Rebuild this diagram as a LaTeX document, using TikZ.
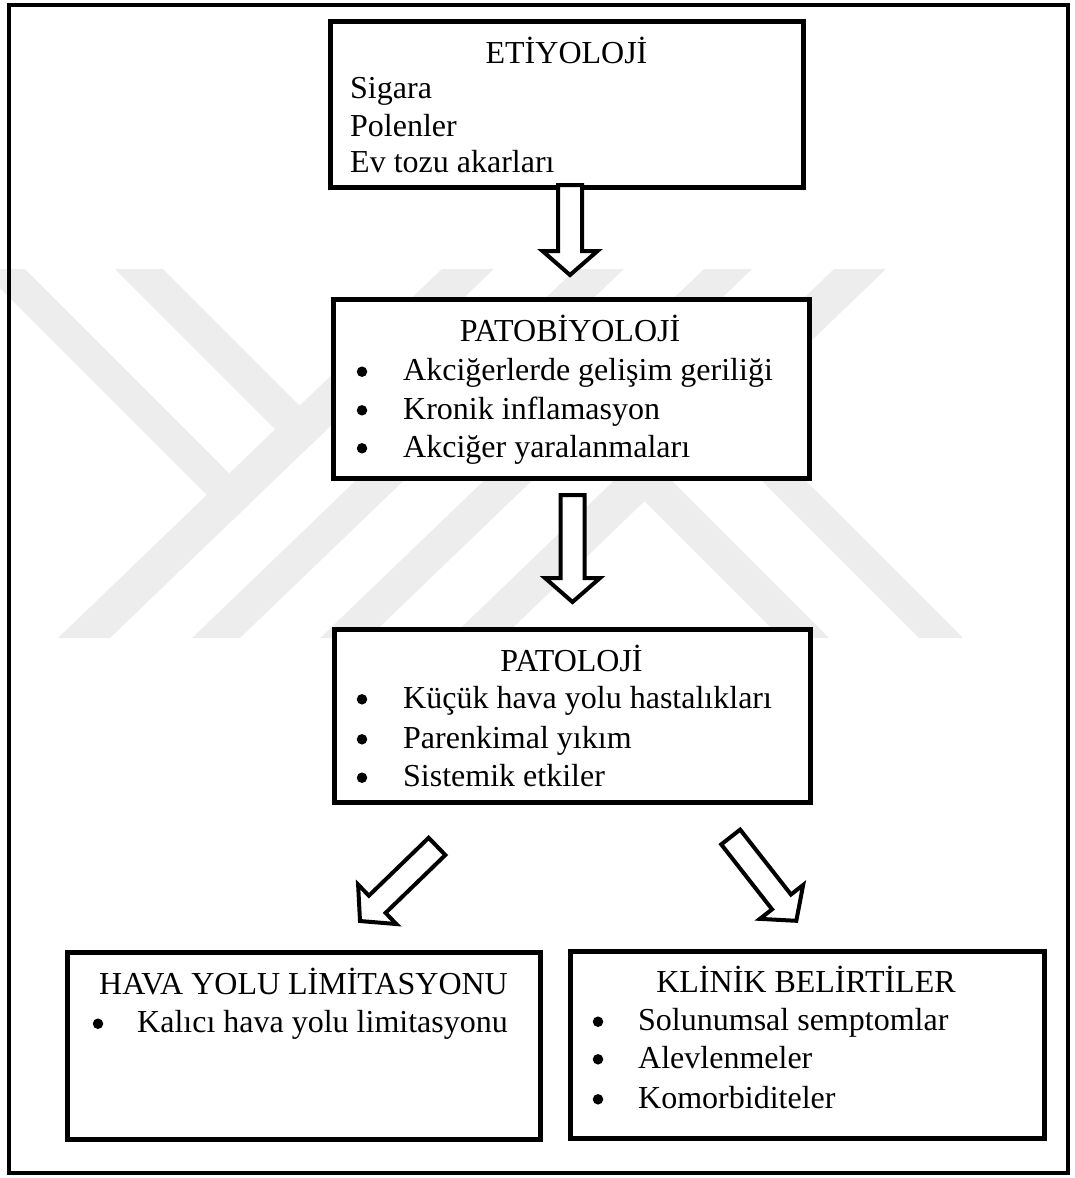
\documentclass[tikz,border=0pt]{standalone}
\usepackage{fontspec}
\setmainfont{Liberation Serif}
\usetikzlibrary{calc}

% block arrow from a tail coordinate to a tip coordinate
\newcommand{\blockarrow}[2]{%
  \coordinate (hb) at ($(#2)!24pt!(#1)$);
  \draw[barrow] ($(#1)!12pt!90:(#2)$) -- ($(hb)!12pt!-90:(#1)$)
    -- ($(hb)!27.5pt!-90:(#1)$) -- (#2) -- ($(hb)!27.5pt!90:(#1)$)
    -- ($(hb)!12pt!90:(#1)$) -- ($(#1)!12pt!-90:(#2)$) -- cycle;}

% one half of the background emblem (the other half is this turned by 180 degrees)
\newcommand{\emblemhalf}{%
  \fill[wm] (-19,269) -- (25,269) -- (254.8,498.8) -- (232.3,520.3) -- cycle;
  \fill[wm] (115,269) -- (163,269) -- (325.1,431.1) -- (300.7,454.7) -- cycle;
  \fill[wm] (58,638) -- (110,638) -- (493.8,269) -- (441.8,269) -- cycle;
  \fill[wm] (192,638) -- (240,638) -- (623.8,269) -- (575.8,269) -- cycle;}

\begin{document}
\begin{tikzpicture}[x=1pt,y=-1pt,
  wm/.style={fill=black!7},
  box/.style={draw, fill=white, line width=5pt, inner sep=0pt},
  barrow/.style={draw, fill=white, line width=4pt, line join=miter},
  txt/.style={inner sep=0pt, font=\fontsize{32}{38}\selectfont},
  title/.style={txt, anchor=base},
  item/.style={txt, anchor=base west},
  bul/.style={circle, fill, inner sep=0pt, minimum size=10.5pt}]

\useasboundingbox (0,0) rectangle (1075,1178);

% background emblem
\begin{scope}
  \clip (0,0) rectangle (1075,1178);
  \emblemhalf
  \begin{scope}[rotate around={180:(472,453.5)}]
    \emblemhalf
  \end{scope}
\end{scope}

% outer frame
\draw[line width=4pt] (8.5,4.5) rectangle (1068,1172.5);

% boxes
\node[box, minimum width=473pt, minimum height=166pt] (eti) at (566.5,104) {};
\node[box, minimum width=476.5pt, minimum height=179pt] (patobio) at (571.25,389) {};
\node[box, minimum width=476pt, minimum height=173pt] (pato) at (572,715.5) {};
\node[box, minimum width=473.5pt, minimum height=186.5pt] (hava) at (303.75,1045.75) {};
\node[box, minimum width=474pt, minimum height=187.5pt] (klinik) at (807,1044.75) {};

% ETİYOLOJİ
\node[title] (t1) at (566.5,63.3) {ETİYOLOJİ};
\node[item] (e1) at (350,98.3) {Sigara};
\node[item] (e2) at (350,136) {Polenler};
\node[item] (e3) at (350,172.7) {Ev tozu akarları};

% PATOBİYOLOJİ
\node[title] (t2) at (570,341.7) {PATOBİYOLOJİ};
\node[bul] (d21) at (362,371.7) {};
\node[bul] (d22) at (362,410.3) {};
\node[bul] (d23) at (362,448.3) {};
\node[item] (p1) at (403,380.7) {Akciğerlerde gelişim geriliği};
\node[item] (p2) at (403,419.3) {Kronik inflamasyon};
\node[item] (p3) at (403,457.3) {Akciğer yaralanmaları};

% PATOLOJİ
\node[title] (t3) at (571.5,671.7) {PATOLOJİ};
\node[bul] (d31) at (362,699.3) {};
\node[bul] (d32) at (362,739.3) {};
\node[bul] (d33) at (362,777.7) {};
\node[item] (q1) at (403,708.3) {Küçük hava yolu hastalıkları};
\node[item] (q2) at (403,748.3) {Parenkimal yıkım};
\node[item] (q3) at (403,786.7) {Sistemik etkiler};

% HAVA YOLU LİMİTASYONU
\node[title] (t4) at (303.5,994) {HAVA YOLU LİMİTASYONU};
\node[bul] (d41) at (98,1023.7) {};
\node[item] (h1) at (137,1032.7) {Kalıcı hava yolu limitasyonu};

% KLİNİK BELİRTİLER
\node[title] (t5) at (806,992.7) {KLİNİK BELİRTİLER};
\node[bul] (d51) at (598,1021.7) {};
\node[bul] (d52) at (598,1059.3) {};
\node[bul] (d53) at (598,1099.3) {};
\node[item] (k1) at (638,1030.7) {Solunumsal semptomlar};
\node[item] (k2) at (638,1068.3) {Alevlenmeler};
\node[item] (k3) at (638,1108.3) {Komorbiditeler};

% arrows between the stages
\coordinate (a1t) at (570,185);   \coordinate (a1h) at (570,275);
\coordinate (a2t) at (572.5,495); \coordinate (a2h) at (572.5,602);
\coordinate (a3t) at (437,846.4); \coordinate (a3h) at (360,921);
\coordinate (a4t) at (730.7,837); \coordinate (a4h) at (796.3,920.8);
\blockarrow{a1t}{a1h}
\blockarrow{a2t}{a2h}
\blockarrow{a3t}{a3h}
\blockarrow{a4t}{a4h}

\end{tikzpicture}
\end{document}
